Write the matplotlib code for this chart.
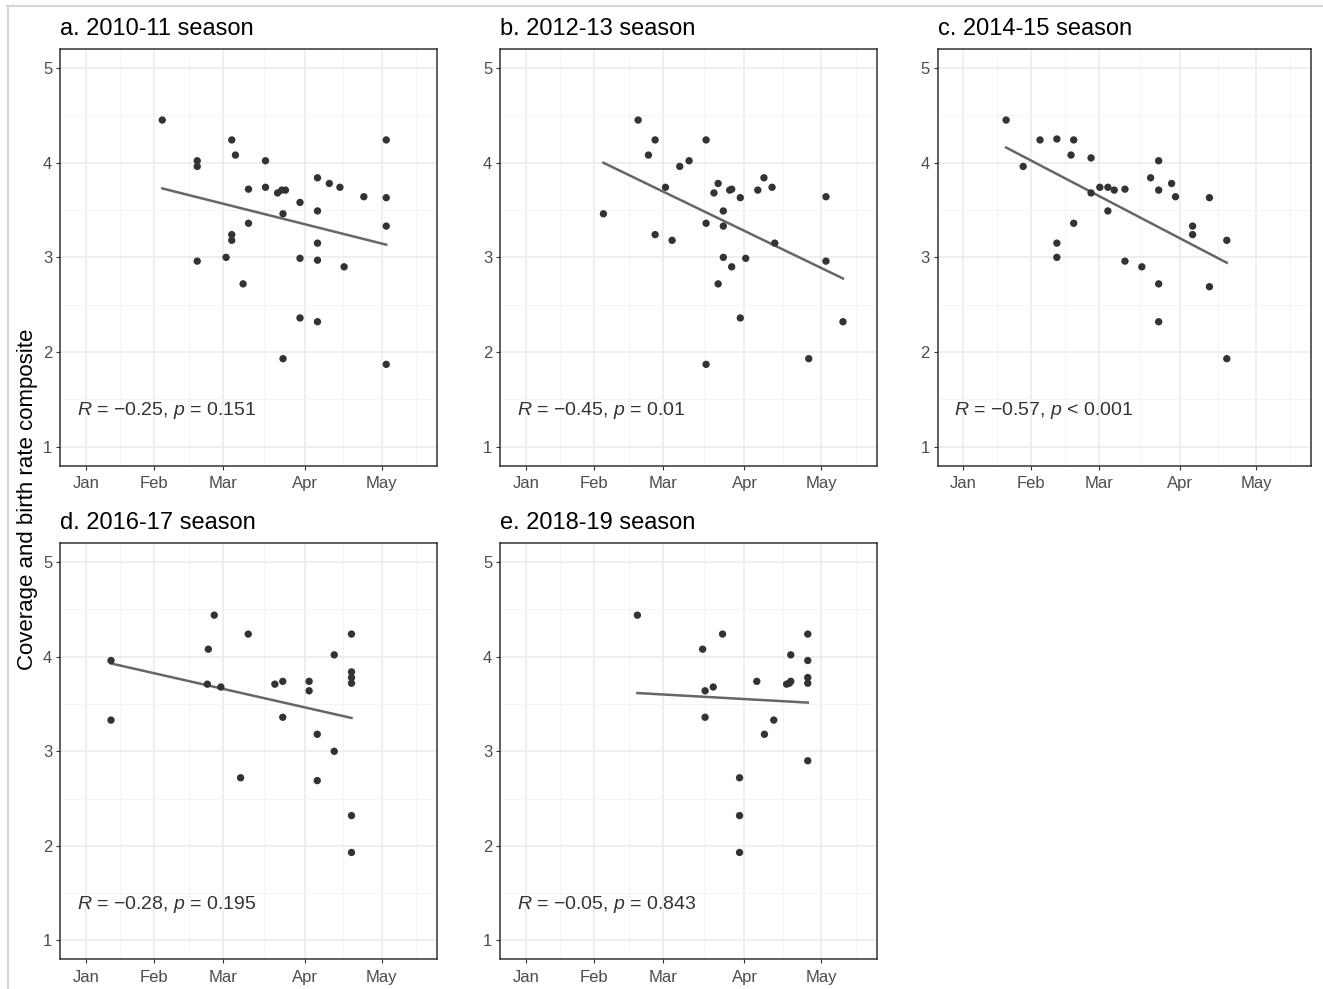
import numpy as np
import matplotlib
matplotlib.use('Agg')
import matplotlib.pyplot as plt
from matplotlib.lines import Line2D

plt.rcParams['font.family'] = ['Liberation Sans', 'DejaVu Sans']
plt.rcParams['mathtext.fontset'] = 'custom'
plt.rcParams['mathtext.it'] = 'Liberation Sans:italic'
plt.rcParams['mathtext.rm'] = 'Liberation Sans'

# ---- axis scale (season position; month ticks) ----
month_labels = ['Jan', 'Feb', 'Mar', 'Apr', 'May']
month_pos = [0, 27.8, 55.8, 88.8, 120]
minor_pos = [13.9, 41.8, 72.3, 104.4, 134]
y_ticks = [1, 2, 3, 4, 5]
y_minor = [1.5, 2.5, 3.5, 4.5]

titles = ['a. 2010-11 season', 'b. 2012-13 season', 'c. 2014-15 season',
          'd. 2016-17 season', 'e. 2018-19 season']
stat_labels = [r'$R$ = −0.25, $p$ = 0.151', r'$R$ = −0.45, $p$ = 0.01',
               r'$R$ = −0.57, $p$ < 0.001', r'$R$ = −0.28, $p$ = 0.195',
               r'$R$ = −0.05, $p$ = 0.843']
y_label = 'Coverage and birth rate composite'

# ---- data ----
a_x = [31.0, 45.2, 45.2, 45.2, 59.2, 60.7, 56.9, 59.2, 59.2, 63.8, 66.0, 66.0,
       72.9, 72.9, 77.8, 79.5, 81.0, 80.0, 80.0, 86.9, 86.9, 86.9, 94.0, 94.0,
       94.0, 94.0, 94.0, 98.8, 103.1, 104.8, 112.8, 121.9, 121.9, 121.9, 121.9]
a_y = [4.45, 4.02, 3.96, 2.96, 4.24, 4.08, 3.00, 3.24, 3.18, 2.72, 3.72, 3.36,
       4.02, 3.74, 3.68, 3.71, 3.71, 3.46, 1.93, 3.58, 2.99, 2.36, 3.84, 3.49,
       3.15, 2.97, 2.32, 3.78, 3.74, 2.90, 3.64, 4.24, 3.63, 3.33, 1.87]

b_x = [31.5, 45.6, 49.8, 52.5, 52.5, 56.7, 59.4, 62.5, 66.3, 73.2, 73.2, 73.2,
       76.4, 78.1, 78.1, 80.2, 80.2, 80.2, 82.8, 83.6, 83.6, 87.1, 87.1, 89.3,
       94.2, 96.7, 100.0, 101.1, 114.9, 121.9, 121.9, 128.8]
b_y = [3.46, 4.45, 4.08, 4.24, 3.24, 3.74, 3.18, 3.96, 4.02, 4.24, 3.36, 1.87,
       3.68, 3.78, 2.72, 3.49, 3.33, 3.00, 3.71, 3.72, 2.90, 3.63, 2.36, 2.99,
       3.71, 3.84, 3.74, 3.15, 1.93, 3.64, 2.96, 2.32]

c_x = [17.6, 24.6, 31.5, 38.4, 38.4, 38.4, 44.2, 45.3, 45.3, 52.4, 52.4, 56.0,
       59.3, 59.3, 61.9, 66.3, 66.3, 73.2, 76.8, 80.1, 80.1, 80.1, 80.1, 85.4,
       87.0, 94.0, 94.0, 100.9, 100.9, 108.0, 108.0]
c_y = [4.45, 3.96, 4.24, 4.25, 3.15, 3.00, 4.08, 4.24, 3.36, 4.05, 3.68, 3.74,
       3.74, 3.49, 3.71, 3.72, 2.96, 2.90, 3.84, 4.02, 3.71, 2.72, 2.32, 3.78,
       3.64, 3.33, 3.24, 3.63, 2.69, 3.18, 1.93]

d_x = [10.2, 10.2, 49.7, 52.1, 49.3, 54.8, 62.8, 65.9, 76.7, 79.9, 79.9, 90.6,
       90.6, 93.9, 93.9, 100.8, 100.8, 107.8, 107.8, 107.8, 107.8, 107.8, 107.8]
d_y = [3.96, 3.33, 4.08, 4.44, 3.71, 3.68, 2.72, 4.24, 3.71, 3.74, 3.36, 3.74,
       3.64, 3.18, 2.69, 4.02, 3.00, 4.24, 3.84, 3.78, 3.72, 2.32, 1.93]

e_x = [45.3, 71.8, 72.8, 72.8, 76.1, 79.9, 86.8, 86.8, 86.8, 93.8, 96.9, 100.7,
       105.9, 107.0, 107.6, 107.6, 114.5, 114.5, 114.5, 114.5, 114.5]
e_y = [4.44, 4.08, 3.64, 3.36, 3.68, 4.24, 2.72, 2.32, 1.93, 3.74, 3.18, 3.33,
       3.71, 3.72, 3.74, 4.02, 4.24, 3.96, 3.78, 3.72, 2.90]

series = [(a_x, a_y), (b_x, b_y), (c_x, c_y), (d_x, d_y), (e_x, e_y)]

# ---- layout (pixels) ----
W, H = 1323, 989
boxes = [(60, 49, 437, 465.7), (500, 49, 876.7, 465.7), (937.5, 49, 1311, 465.7),
         (60, 543.3, 437, 959.3), (500, 543.3, 876.7, 959.3)]

fig = plt.figure(figsize=(W / 100, H / 100), dpi=100)
fig.patch.set_facecolor('white')

for i, ((l, t, r, b), (xs, ys)) in enumerate(zip(boxes, series)):
    ax = fig.add_axes([l / W, 1 - b / H, (r - l) / W, (b - t) / H])
    ax.set_xlim(-10.5, 142.5)
    ax.set_ylim(0.8, 5.2)
    ax.set_xticks(month_pos)
    ax.set_xticklabels(month_labels)
    ax.set_xticks(minor_pos, minor=True)
    ax.set_yticks(y_ticks)
    ax.set_yticks(y_minor, minor=True)
    ax.set_axisbelow(True)
    ax.grid(which='major', color='#ebebeb', lw=1.1)
    ax.grid(which='minor', color='#f4f4f4', lw=0.7)
    ax.tick_params(which='major', length=3, width=0.8, color='#333333',
                   labelcolor='#4d4d4d', labelsize=12, pad=2.5)
    ax.tick_params(axis='x', which='major', pad=4.5)
    ax.tick_params(which='minor', length=0)
    for s in ax.spines.values():
        s.set_color('#333333')
        s.set_linewidth(1.1)
    xs = np.asarray(xs)
    ys = np.asarray(ys)
    k, c0 = np.polyfit(xs, ys, 1)
    xl = np.array([xs.min(), xs.max()])
    ax.plot(xl, k * xl + c0, color='#666666', lw=1.8, zorder=2)
    ax.scatter(xs, ys, s=28, color='#333333', edgecolors='none', zorder=3)
    ax.text(0.045, 0.132, stat_labels[i], transform=ax.transAxes,
            fontsize=14, color='#333333', ha='left', va='center')
    fig.text(l / W, 1 - (t - 20) / H, titles[i], fontsize=17, color='black',
             ha='left', va='center')

fig.text(28 / W, 1 - 499 / H, y_label, rotation=90, fontsize=16, color='black',
         ha='center', va='center')

# faint outer frame
fig.add_artist(Line2D([7 / W, 1], [1 - 6 / H, 1 - 6 / H], color='#d6d6d6', lw=1.5,
                      transform=fig.transFigure))
fig.add_artist(Line2D([8 / W, 8 / W], [1 - 6 / H, 0], color='#d6d6d6', lw=1.5,
                      transform=fig.transFigure))

fig.savefig('out.png', dpi=100)
